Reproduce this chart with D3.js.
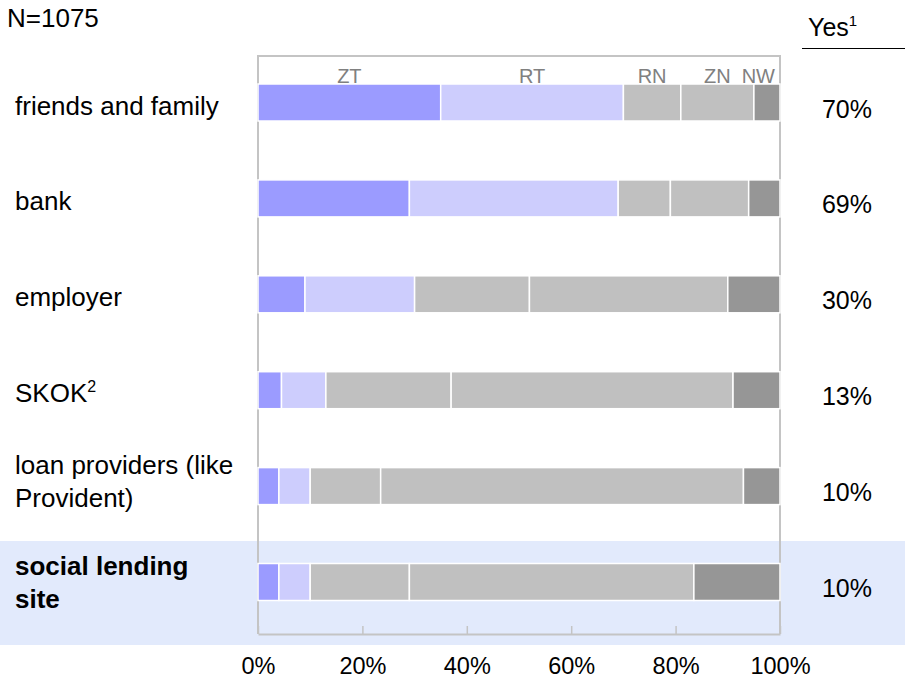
<!DOCTYPE html>
<html>
<head>
<meta charset="utf-8">
<script src="https://cdn.jsdelivr.net/npm/d3@7"></script>
<style>
  html, body { margin: 0; padding: 0; background: #ffffff; overflow: hidden; }
  svg { display: block; font-family: "Liberation Sans", Arial, sans-serif; }
</style>
</head>
<body>
<svg id="chart" width="905" height="679"></svg>
<script>
// Sources of borrowing, answer shares per source (percent of respondents)
const categories = ["friends and family", "bank", "employer", "SKOK", "loan providers (like Provident)", "social lending site"];
const categoryLines = [["friends and family"], ["bank"], ["employer"], ["SKOK"], ["loan providers (like", "Provident)"], ["social lending", "site"]];
const categoryNotes = ["", "", "", "2", "", ""];
const highlighted = "social lending site";

const seriesNames = ["ZT", "RT", "RN", "ZN", "NW"];
const seriesColors = ["#9b9bff", "#cdcdfd", "#c0c0c0", "#c0c0c0", "#969696"];
const valuesZT = [35, 29, 9, 4.5, 4, 4];
const valuesRT = [35, 40, 21, 8.5, 6, 6];
const valuesRN = [11, 10, 22, 24, 13.5, 19];
const valuesZN = [14, 15, 38, 54, 69.5, 54.5];
const valuesNW = [5, 6, 10, 9, 7, 16.5];
const yesShare = [70, 69, 30, 13, 10, 10];

const tickValues = [0, 20, 40, 60, 80, 100];
const sampleLabel = "N=1075";
const yesLabel = "Yes";

const rows = categories.map((c, i) => {
  const o = { category: c };
  o.ZT = valuesZT[i]; o.RT = valuesRT[i]; o.RN = valuesRN[i]; o.ZN = valuesZN[i]; o.NW = valuesNW[i];
  return o;
});

const svg = d3.select("#chart");
const W = 905;
const plotLeft = 258, plotRight = 780, plotTop = 56, plotBottom = 634;
const barH = 37;

const x = d3.scaleLinear().domain([0, 100]).range([plotLeft, plotRight]);
const y = d3.scalePoint().domain(categories).range([102.5, 582]);
const color = d3.scaleOrdinal().domain(seriesNames).range(seriesColors);

const stacked = d3.stack().keys(seriesNames)(rows);

// highlight band behind the featured row
svg.append("rect")
  .attr("x", 0).attr("width", W)
  .attr("y", y(highlighted) - 41).attr("height", 104)
  .attr("fill", "#e2eafc");

// plot frame (left, top, right)
svg.append("path")
  .attr("d", `M${plotLeft},${plotBottom}V${plotTop}H${plotRight}V${plotBottom}`)
  .attr("fill", "none").attr("stroke", "#c4c4c4").attr("stroke-width", 2);

// bottom axis: frame line, inner ticks and percent labels
const axis = svg.append("g")
  .attr("transform", `translate(0,${plotBottom})`)
  .call(d3.axisBottom(x).tickValues(tickValues).tickFormat(d => d + "%")
    .tickSizeInner(-8).tickSizeOuter(0).tickPadding(23));
axis.select(".domain").attr("stroke", "#c4c4c4").attr("stroke-width", 2);
axis.selectAll(".tick line").attr("stroke", "#c4c4c4").attr("stroke-width", 1.5);
axis.selectAll(".tick text").attr("fill", "#000").attr("font-size", 23.5)
  .attr("font-family", "Liberation Sans, Arial, sans-serif");

// stacked segments
svg.append("g").selectAll("g")
  .data(stacked)
  .join("g")
  .attr("fill", d => color(d.key))
  .selectAll("rect")
  .data(d => d)
  .join("rect")
  .attr("x", d => x(d[0]))
  .attr("width", d => x(d[1]) - x(d[0]))
  .attr("y", d => y(d.data.category) - barH / 2)
  .attr("height", barH)
  .attr("stroke", "#ffffff")
  .attr("stroke-width", 1.5);

// series names above the first bar
const firstStack = stacked.map(s => ({ key: s.key, seg: s[0] }));
svg.append("g").selectAll("text")
  .data(firstStack)
  .join("text")
  .attr("font-size", 20)
  .attr("fill", "#808080")
  .attr("text-anchor", "middle")
  .attr("y", y(categories[0]) - barH / 2 - 1)
  .text(d => d.key)
  .attr("x", function (d) {
    const w = this.getComputedTextLength();
    let cx = x((d.seg[0] + d.seg[1]) / 2);
    if (cx + w / 2 > plotRight - 5) cx = plotRight - 5 - w / 2;
    return cx;
  });

// category labels
const labels = svg.append("g").selectAll("text")
  .data(categories)
  .join("text")
  .attr("x", 15)
  .attr("font-size", 26)
  .attr("fill", "#000")
  .attr("font-weight", d => d === highlighted ? "bold" : "normal");
labels.each(function (c, i) {
  const t = d3.select(this);
  const lines = categoryLines[i];
  const cy = y(c);
  const mid = cy + (c === highlighted ? 9 : 4.5);
  lines.forEach((ln, k) => {
    const base = lines.length === 1 ? cy + 12 : mid - 16.5 + k * 33;
    t.append("tspan").attr("x", 15).attr("y", base).text(ln);
  });
  if (categoryNotes[i]) {
    t.append("tspan").attr("font-size", 16).attr("dy", -10).text(categoryNotes[i]);
  }
});

// Yes share column
svg.append("g").selectAll("text")
  .data(yesShare)
  .join("text")
  .attr("x", 847)
  .attr("y", (d, i) => y(categories[i]) + 15)
  .attr("text-anchor", "middle")
  .attr("font-size", 25)
  .attr("fill", "#000")
  .text(d => d + "%");

const yesHead = svg.append("text")
  .attr("x", 808).attr("y", 36)
  .attr("font-size", 25).attr("fill", "#000");
yesHead.append("tspan").text(yesLabel);
yesHead.append("tspan").attr("font-size", 15).attr("dy", -10).text("1");

svg.append("line")
  .attr("x1", 802).attr("x2", 905)
  .attr("y1", 48.5).attr("y2", 48.5)
  .attr("stroke", "#000").attr("stroke-width", 1);

svg.append("text")
  .attr("x", 7).attr("y", 27)
  .attr("font-size", 26).attr("fill", "#000")
  .text(sampleLabel);
</script>
</body>
</html>
